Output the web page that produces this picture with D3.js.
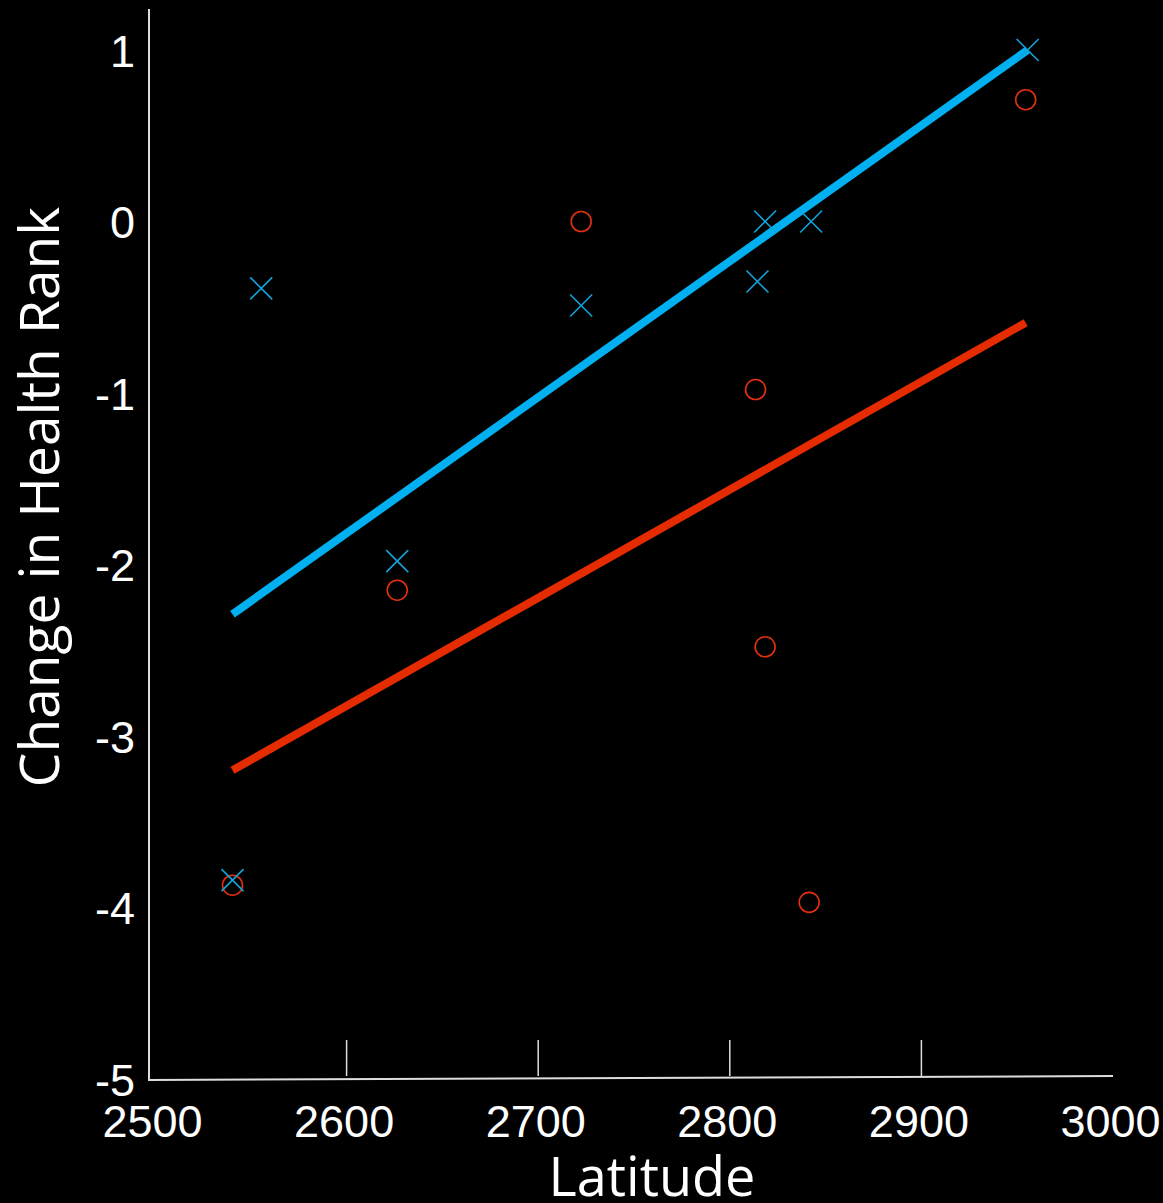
<!DOCTYPE html>
<meta charset="utf-8">
<style>
  body { margin: 0; background: #000; }
  svg { display: block; }
</style>
<body>
<script src="https://cdn.jsdelivr.net/npm/d3@7"></script>
<script>

var width = 1163,
    height = 1203;

// blue group (crosses)
var blueLat = [2557, 2628, 2542, 2724, 2816, 2820, 2844, 2957];
var blueChange = [-0.39, -1.98, -3.84, -0.49, -0.35, 0, 0, 1];

// red group (circles)
var redLat = [2542, 2628, 2724, 2815, 2820, 2843, 2956];
var redChange = [-3.87, -2.15, 0, -0.98, -2.48, -3.97, 0.71];

// trend lines, start and end
var blueTrendLat = [2542, 2957],
    blueTrendVal = [-2.29, 1.0];
var redTrendLat = [2542, 2956],
    redTrendVal = [-3.2, -0.59];

var xTicks = [2500, 2600, 2700, 2800, 2900, 3000];
var yTicks = [1, 0, -1, -2, -3, -4, -5];

var blue = "#00b0f0",
    blueMark = "#12a3dc",
    red = "#e42c00",
    redMark = "#e3300f";

var x = d3.scaleLinear().domain([2500, 3000]).range([152, 1110]);
var y = d3.scaleLinear().domain([-5, 1]).range([1079, 50]);

var svg = d3.select("body").append("svg")
    .attr("width", width)
    .attr("height", height)
    .style("background", "#000");

// plain hyphen minus, like the original
var fmt = function(d) { return String(d); };

// axes
var gx = svg.append("g")
    .attr("transform", "translate(0," + y(-5) + ")")
    .call(d3.axisBottom(x).tickValues(xTicks).tickSize(0).tickPadding(0).tickFormat(fmt));
gx.select(".domain").remove();
gx.selectAll("text")
    .attr("y", 58)
    .attr("dy", 0)
    .attr("fill", "#fff")
    .style("font-family", "'Liberation Sans', Arial, sans-serif")
    .style("font-size", "45px");

// inner tick marks, no tick at the ends
svg.append("g").selectAll("line")
    .data(xTicks.slice(1, -1))
  .enter().append("line")
    .attr("x1", function(d) { return x(d) + 3; })
    .attr("x2", function(d) { return x(d) + 3; })
    .attr("y1", y(-5) - 39)
    .attr("y2", y(-5) - 3)
    .attr("stroke", "#ddd")
    .attr("stroke-width", 1.5);

svg.append("line")
    .attr("x1", 148).attr("x2", 1113)
    .attr("y1", y(-5) + 1).attr("y2", y(-5) - 3)
    .attr("stroke", "#ddd")
    .attr("stroke-width", 2);

var gy = svg.append("g")
    .attr("transform", "translate(149,0)")
    .call(d3.axisLeft(y).tickValues(yTicks).tickSize(0).tickPadding(14).tickFormat(fmt));
gy.select(".domain").remove();
gy.selectAll("text")
    .attr("dy", "0.36em")
    .attr("fill", "#fff")
    .style("font-family", "'Liberation Sans', Arial, sans-serif")
    .style("font-size", "45px");

svg.append("line")
    .attr("x1", 149).attr("x2", 149)
    .attr("y1", 9).attr("y2", y(-5) + 1)
    .attr("stroke", "#ddd")
    .attr("stroke-width", 2);

// axis titles
svg.append("text")
    .attr("x", 652)
    .attr("y", 1196)
    .attr("text-anchor", "middle")
    .attr("fill", "#fff")
    .style("font-family", "'Open Sans', sans-serif")
    .style("font-size", "54px")
    .text("Latitude");

svg.append("text")
    .attr("transform", "translate(59,497) rotate(-90)")
    .attr("text-anchor", "middle")
    .attr("fill", "#fff")
    .style("font-family", "'Open Sans', sans-serif")
    .style("font-size", "55px")
    .text("Change in Health Rank");

// trend lines
var line = d3.line()
    .x(function(d) { return x(d[0]); })
    .y(function(d) { return y(d[1]); });

svg.append("path")
    .datum(d3.zip(redTrendLat, redTrendVal))
    .attr("d", line)
    .attr("fill", "none")
    .attr("stroke", red)
    .attr("stroke-width", 8);

svg.append("path")
    .datum(d3.zip(blueTrendLat, blueTrendVal))
    .attr("d", line)
    .attr("fill", "none")
    .attr("stroke", blue)
    .attr("stroke-width", 8);

// red circles
svg.append("g").selectAll("circle")
    .data(d3.zip(redLat, redChange))
  .enter().append("circle")
    .attr("cx", function(d) { return x(d[0]); })
    .attr("cy", function(d) { return y(d[1]); })
    .attr("r", 10)
    .attr("fill", "none")
    .attr("stroke", redMark)
    .attr("stroke-width", 1.6);

// blue crosses
var s = 11;
svg.append("g").selectAll("path")
    .data(d3.zip(blueLat, blueChange))
  .enter().append("path")
    .attr("transform", function(d) { return "translate(" + x(d[0]) + "," + y(d[1]) + ")"; })
    .attr("d", "M" + -s + "," + -s + "L" + s + "," + s + "M" + -s + "," + s + "L" + s + "," + -s)
    .attr("fill", "none")
    .attr("stroke", blueMark)
    .attr("stroke-width", 1.6);

</script>
